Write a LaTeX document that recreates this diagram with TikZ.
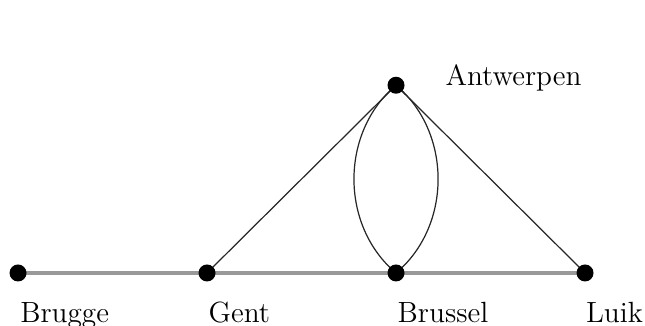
\documentclass[tikz,border=0pt]{standalone}
\usepackage{tikz}
\usetikzlibrary{positioning, calc, backgrounds}
\tikzstyle{city} = [circle, fill=black, inner sep=0pt, minimum size=0.27cm]
\tikzstyle{cityname} = [inner sep=0pt, font=\fontsize{13.2}{16}\selectfont]
\tikzstyle{rail} = [black!40, line width=1.5pt]
\tikzstyle{link} = [black!85, line width=0.55pt]

\begin{document}
\begin{tikzpicture}
    \useasboundingbox (-0.286,-0.841) rectangle (9.952,4.333);
    % Cities
    \node[city] (brugge) at (0,0) {};
    \node[city, right=3cm of brugge.center, anchor=center] (gent) {};
    \node[city, right=3cm of gent.center, anchor=center] (brussel) {};
    \node[city, right=3cm of brussel.center, anchor=center] (luik) {};
    \node[city, above=2.98cm of brussel.center, anchor=center] (antwerpen) {};

    % Names
    \node[cityname, anchor=base west] (nbrugge) at ($(brugge)+(0.03,-0.78)$) {Brugge};
    \node[cityname, anchor=base west] (ngent) at ($(gent)+(0.02,-0.78)$) {Gent};
    \node[cityname, anchor=base west] (nbrussel) at ($(brussel)+(0.02,-0.78)$) {Brussel};
    \node[cityname, anchor=base west] (nluik) at ($(luik)+(0.01,-0.78)$) {Luik};
    \node[cityname, anchor=west] (nantwerpen) at ($(antwerpen)+(0.78,0.12)$) {Antwerpen};

    % Connections
    \begin{scope}[on background layer]
        \draw[rail] (brugge.center) -- (gent.center) -- (brussel.center) -- (luik.center);
        \draw[link] (gent.center) -- (antwerpen.center) -- (luik.center);
        \draw[link] (antwerpen.center) to[bend right=50] (brussel.center);
        \draw[link] (antwerpen.center) to[bend left=50] (brussel.center);
    \end{scope}
\end{tikzpicture}
\end{document}
